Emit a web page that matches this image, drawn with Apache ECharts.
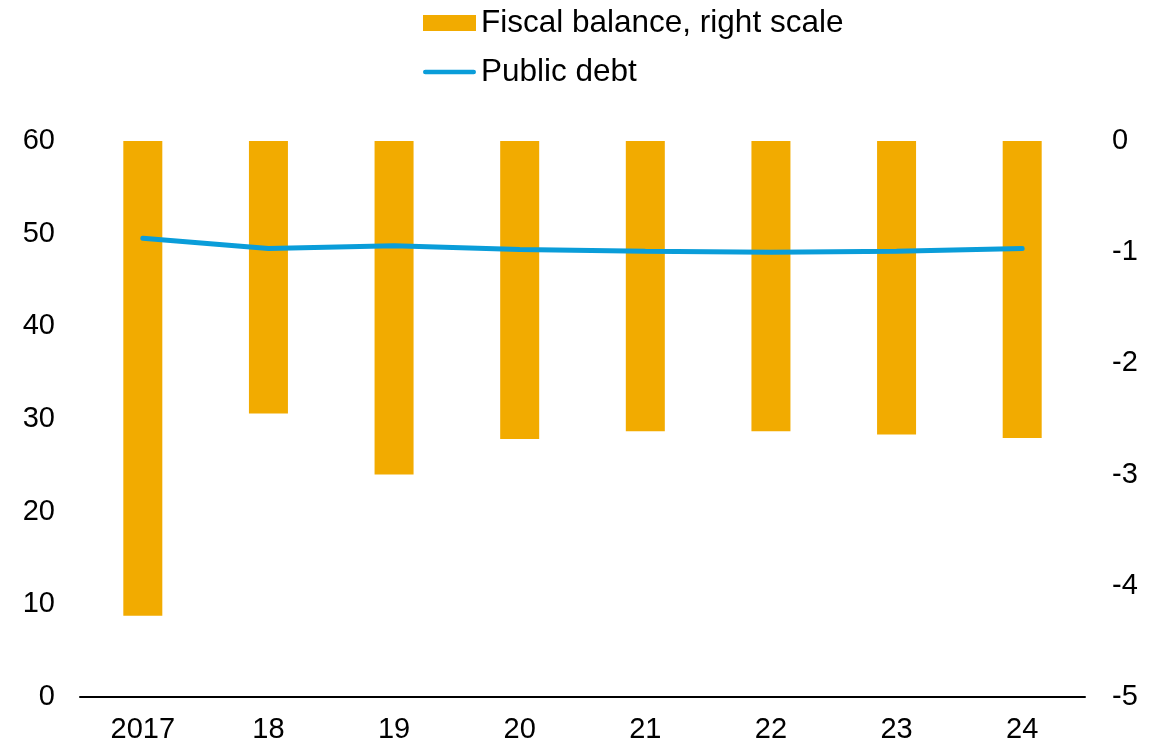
<!DOCTYPE html>
<html>
<head>
<meta charset="utf-8">
<script src="https://cdn.jsdelivr.net/npm/echarts@6/dist/echarts.min.js"></script>
<style>
  html, body { margin: 0; padding: 0; background: #fff; }
  #chart { width: 1168px; height: 746px; }
</style>
</head>
<body>
<div id="chart"></div>
<script>
// Years shown on the horizontal axis
const years = ['2017', '18', '19', '20', '21', '22', '23', '24'];
// Fiscal balance, % of GDP (right scale)
const fiscalBalance = [-4.27, -2.45, -3.0, -2.68, -2.61, -2.61, -2.64, -2.67];
// Public debt, % of GDP (left scale)
const publicDebt = [49.5, 48.4, 48.7, 48.3, 48.1, 48.0, 48.1, 48.4];

const FONT = 'Liberation Sans, Arial, sans-serif';
const labelStyle = { color: '#000', fontFamily: FONT, fontSize: 29 };

const chart = echarts.init(document.getElementById('chart'), null, { renderer: 'canvas' });
chart.setOption({
  animation: false,
  backgroundColor: '#fff',
  legend: {
    orient: 'vertical',
    left: 423,
    top: 7,
    padding: 0,
    itemWidth: 53,
    itemHeight: 16,
    itemGap: 17,
    itemTextGap: 5,
    textStyle: { color: '#000', fontFamily: FONT, fontSize: 31.5, lineHeight: 32 },
    data: [
      { name: 'Fiscal balance, right scale', icon: 'rect' },
      { name: 'Public debt', icon: 'path://M2.5,0H53.5A2.5,2.5,0,0,1,53.5,5H2.5A2.5,2.5,0,0,1,2.5,0Z' }
    ]
  },
  grid: { left: 80, right: 83, top: 141, bottom: 49 },
  xAxis: {
    type: 'category',
    data: years,
    axisLine: { show: true, lineStyle: { color: '#000', width: 2 } },
    axisTick: { show: false },
    axisLabel: Object.assign({ margin: 18 }, labelStyle)
  },
  yAxis: [
    {
      type: 'value', min: 0, max: 60, interval: 10,
      axisLine: { show: false }, axisTick: { show: false }, splitLine: { show: false },
      axisLabel: Object.assign({ margin: 25 }, labelStyle)
    },
    {
      type: 'value', min: -5, max: 0, interval: 1, position: 'right',
      axisLine: { show: false }, axisTick: { show: false }, splitLine: { show: false },
      axisLabel: Object.assign({ margin: 27 }, labelStyle)
    }
  ],
  series: [
    {
      name: 'Fiscal balance, right scale',
      type: 'bar',
      yAxisIndex: 1,
      data: fiscalBalance,
      barWidth: 39,
      itemStyle: { color: '#f2ab00' }
    },
    {
      name: 'Public debt',
      type: 'line',
      yAxisIndex: 0,
      data: publicDebt,
      symbol: 'none',
      lineStyle: { color: '#0a9dd9', width: 5, cap: 'round' },
      itemStyle: { color: '#0a9dd9' }
    }
  ]
});
</script>
</body>
</html>
